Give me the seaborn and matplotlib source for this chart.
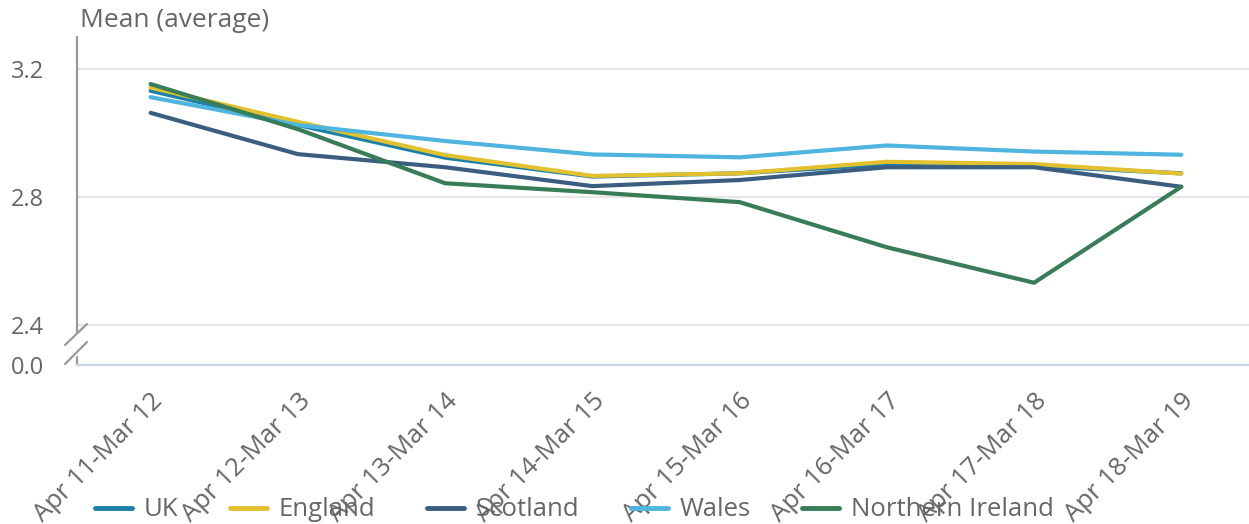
import numpy as np
import pandas as pd
import matplotlib
matplotlib.use("Agg")
import matplotlib.pyplot as plt
import seaborn as sns

# =========================================
# DATA
# =========================================

periods = [
    "Apr 11-Mar 12", "Apr 12-Mar 13", "Apr 13-Mar 14", "Apr 14-Mar 15",
    "Apr 15-Mar 16", "Apr 16-Mar 17", "Apr 17-Mar 18", "Apr 18-Mar 19",
]

uk = [3.132, 3.025, 2.923, 2.864, 2.874, 2.902, 2.897, 2.874]
england = [3.142, 3.035, 2.931, 2.866, 2.874, 2.910, 2.903, 2.873]
scotland = [3.063, 2.934, 2.893, 2.834, 2.853, 2.893, 2.893, 2.832]
wales = [3.112, 3.025, 2.975, 2.933, 2.924, 2.961, 2.942, 2.932]
northern_ireland = [3.153, 3.012, 2.843, 2.815, 2.784, 2.643, 2.532, 2.832]

regions = ["UK", "England", "Scotland", "Wales", "Northern Ireland"]
colors = ["#1a80aa", "#e3c02e", "#3b5e80", "#4db5de", "#387c58"]

# y axis is broken: the bottom tick stands for 0.0
y_ticks = [2.275, 2.4, 2.8, 3.2]
y_tick_labels = ["0.0", "2.4", "2.8", "3.2"]

df = pd.DataFrame({
    "period": periods * 5,
    "mean": uk + england + scotland + wales + northern_ireland,
    "region": [r for r in regions for _ in periods],
})

# =========================================
# STYLE
# =========================================

sns.set_style("white")
plt.rcParams["font.family"] = ["Open Sans", "DejaVu Sans"]
text_color = "#666666"
fs_y = 17
fs = 18.5

fig = plt.figure(figsize=(12.49, 5.24), dpi=100)
ax = fig.add_axes([77 / 1249, 159 / 524, 1172 / 1249, 328 / 524])

sns.lineplot(
    data=df,
    x="period",
    y="mean",
    hue="region",
    hue_order=regions,
    palette=colors,
    linewidth=3,
    legend=False,
    ax=ax,
)

ax.set_xlim(-0.5, 7.46)
ax.set_ylim(2.275, 3.3)
ax.set_yticks(y_ticks)
ax.set_yticklabels(y_tick_labels)
ax.set_xlabel("")
ax.set_ylabel("")

ax.yaxis.grid(True, color="#e6e6e6", linewidth=1.6)
ax.set_axisbelow(True)

for s in ["top", "right", "left"]:
    ax.spines[s].set_visible(False)
ax.spines["bottom"].set_color("#ccd6eb")
ax.spines["bottom"].set_linewidth(1.6)

ax.tick_params(axis="y", length=0, pad=24, labelsize=fs_y, labelcolor=text_color)
ax.tick_params(axis="x", length=14, width=1.2, color="#ccd6eb",
               pad=3, labelsize=fs, labelcolor=text_color)
plt.setp(ax.get_xticklabels(), rotation=45, ha="right", rotation_mode="anchor")

# broken y axis line
axis_kw = dict(transform=ax.transAxes, clip_on=False, color="#999999", linewidth=1.6)
ax.plot([0, 0], [0.101, 1.0], **axis_kw)
ax.plot([0, 0], [0.0, 0.024], **axis_kw)
ax.plot([-0.0102, 0.0085], [0.061, 0.125], **axis_kw)
ax.plot([-0.0102, 0.0085], [0.003, 0.070], **axis_kw)

ax.annotate("Mean (average)", xy=(0, 1), xycoords="axes fraction",
            xytext=(2, 12), textcoords="offset points",
            ha="left", va="center", fontsize=19, color=text_color)

# =========================================
# LEGEND
# =========================================

handles = [plt.Line2D([], [], color=c, linewidth=3.5) for c in colors]
fig.legend(
    handles, regions,
    loc="center left",
    bbox_to_anchor=(95 / 1249, 14 / 524),
    ncol=5,
    frameon=False,
    fontsize=fs,
    labelcolor=text_color,
    handlelength=1.45,
    handletextpad=0.45,
    columnspacing=2.0,
    borderpad=0,
    borderaxespad=0,
)

fig.savefig("out.png", dpi=100)
